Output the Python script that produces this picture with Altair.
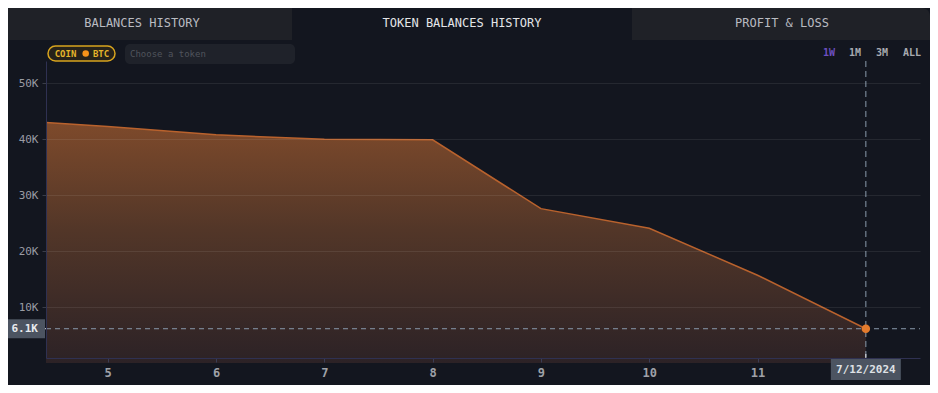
import altair as alt
import pandas as pd

# ---- data ----
days = [4.43, 5, 6, 7, 8, 9, 10, 11, 12]
balances = [43000, 42300, 40800, 40000, 39900, 27600, 24100, 15700, 6130]
x_ticks = [5, 6, 7, 8, 9, 10, 11]
y_ticks = [10000, 20000, 30000, 40000, 50000]
tabs = ["BALANCES HISTORY", "TOKEN BALANCES HISTORY", "PROFIT & LOSS"]
ranges = ["1W", "1M", "3M", "ALL"]
last_date = "7/12/2024"
token_tag = ["COIN", "BTC"]
placeholder = "Choose a token"

W, H = 874, 297
FONT = "DejaVu Sans Mono"
BG = "#13161f"
TAB_BG = "#1f2127"

df = pd.DataFrame({"day": days, "balance": balances})
last = pd.DataFrame({
    "day": [days[-1]],
    "balance": [balances[-1]],
    "label": [f"{balances[-1] / 1000:.1f}K"],
    "date": [last_date],
})
one = pd.DataFrame({"k": [0]})

xs = alt.Scale(domain=[4.43, 12.5], nice=False, zero=False)
ys = alt.Scale(domain=[900, 54000], nice=False, zero=False)


def box(x, x2, y, y2, fill, **kw):
    return alt.Chart(one).mark_rect(fill=fill, **kw).encode(
        x=alt.value(x), x2=alt.value(x2), y=alt.value(y), y2=alt.value(y2)
    )


def label(txt, x, y, color, size, weight="normal", align="center"):
    return alt.Chart(one).mark_text(
        text=txt, font=FONT, fontSize=size, fontWeight=weight, color=color,
        align=align, baseline="middle"
    ).encode(x=alt.value(x), y=alt.value(y))


# ---- UI chrome ----
tab1 = box(-46, 246, -53, -21, TAB_BG)
tab3 = box(586, 884, -53, -21, TAB_BG, cornerRadiusTopRight=8)
t1 = label(tabs[0], 96, -38, "#b9bbc1", 12)
t2 = label(tabs[1], 416, -38, "#e4e5e8", 12)
t3 = label(tabs[2], 736, -38, "#b9bbc1", 12)

pill = box(2, 69, -15, 0, "#26221a", cornerRadius=8, stroke="#d8a41e", strokeWidth=1.5)
coin_txt = label(token_tag[0], 19.5, -7.5, "#e5b52b", 9, "bold")
coin_icon = alt.Chart(one).mark_circle(size=42, color="#f7931a", opacity=1).encode(
    x=alt.value(39.7), y=alt.value(-7.5)
)
btc_txt = label(token_tag[1], 55, -7.5, "#e5b52b", 9, "bold")
search = box(79, 249, -17, 3, "#1f222a", cornerRadius=5)
search_txt = label(placeholder, 84, -7, "#50545c", 9, align="left")

r_x = [783, 809, 836, 866]
r_col = ["#6d4fc0", "#a8aab0", "#a8aab0", "#a8aab0"]
range_layers = [label(r, x, -8, c, 10, "bold") for r, x, c in zip(ranges, r_x, r_col)]

# ---- data marks ----
area = alt.Chart(df).mark_area(
    opacity=1, fillOpacity=1,
    line=alt.OverlayMarkDef(color="#b9622d", strokeWidth=1.5),
    color=alt.Gradient(
        gradient="linear", x1=1, x2=1, y1=0, y2=1,
        stops=[
            alt.GradientStop(color="#7e4a2b", offset=0),
            alt.GradientStop(color="#523628", offset=0.45),
            alt.GradientStop(color="#2c2226", offset=1),
        ],
    ),
).encode(
    x=alt.X("day:Q", scale=xs, axis=alt.Axis(
        values=x_ticks, format="d", title=None, grid=False, zindex=1,
        labelFont=FONT, labelFontSize=12, labelFontWeight="bold", labelColor="#9fa1a8",
        tickColor="#3a3d55", tickSize=4, labelPadding=5, domainColor="#2f3152",
    )),
    y=alt.Y("balance:Q", scale=ys, axis=alt.Axis(
        values=y_ticks, labelExpr="format(datum.value / 1000, 'd') + 'K'", title=None,
        grid=True, gridColor="#ffffff", gridOpacity=0.08, zindex=1,
        labelFont=FONT, labelFontSize=11, labelColor="#9a9ca4",
        tickColor="#3a3d48", tickSize=4, labelPadding=4, domainColor="#2f3152",
    )),
    y2=alt.value(H),
)

lastc = alt.Chart(last)
hline = lastc.mark_rule(strokeDash=[5, 4], color="#8a9aac", strokeWidth=1).encode(
    y=alt.Y("balance:Q", scale=ys), x=alt.value(0), x2=alt.value(W)
)
vline = lastc.mark_rule(strokeDash=[6, 4], color="#8a9aac", strokeWidth=1).encode(
    x=alt.X("day:Q", scale=xs), y=alt.value(0), y2=alt.value(H)
)
htick = lastc.mark_rule(color="#e8eaee", strokeWidth=1).encode(
    y=alt.Y("balance:Q", scale=ys), x=alt.value(-4), x2=alt.value(0)
)
vtick = lastc.mark_rule(color="#e8eaee", strokeWidth=1).encode(
    x=alt.X("day:Q", scale=xs), y=alt.value(H - 4), y2=alt.value(H + 1)
)
dot = lastc.mark_circle(size=72, color="#e37b2d", opacity=1).encode(
    x=alt.X("day:Q", scale=xs), y=alt.Y("balance:Q", scale=ys)
)
ybox = lastc.mark_rect(color="#4c5461", yOffset=-9.5, y2Offset=9.5).encode(
    x=alt.value(-43), x2=alt.value(-1),
    y=alt.Y("balance:Q", scale=ys), y2=alt.Y2("balance:Q"),
)
ytxt = lastc.mark_text(font=FONT, fontSize=11, fontWeight="bold", color="#e8eaee",
                       align="right", baseline="middle").encode(
    x=alt.value(-8), y=alt.Y("balance:Q", scale=ys), text="label:N"
)
xbox = lastc.mark_rect(color="#4c5461", xOffset=-35, x2Offset=35).encode(
    x=alt.X("day:Q", scale=xs), x2=alt.X2("day:Q"),
    y=alt.value(H), y2=alt.value(H + 22),
)
xtxt = lastc.mark_text(font=FONT, fontSize=11, fontWeight="bold", color="#dfe1e5",
                       align="center", baseline="middle").encode(
    x=alt.X("day:Q", scale=xs), y=alt.value(H + 11.5), text="date:N"
)

chart = alt.layer(
    tab1, tab3, t1, t2, t3, pill, coin_txt, coin_icon, btc_txt, search, search_txt,
    *range_layers,
    area, hline, vline, htick, dot, ybox, ytxt, xbox, vtick, xtxt,
).properties(
    width=W, height=H,
    padding={"left": 38, "top": 53, "right": 10, "bottom": 27},
    autosize=alt.AutoSizeParams(type="none"),
    background=BG,
).configure_view(stroke=None)

chart.save("out.html", embed_options={"renderer": "svg", "actions": False})
